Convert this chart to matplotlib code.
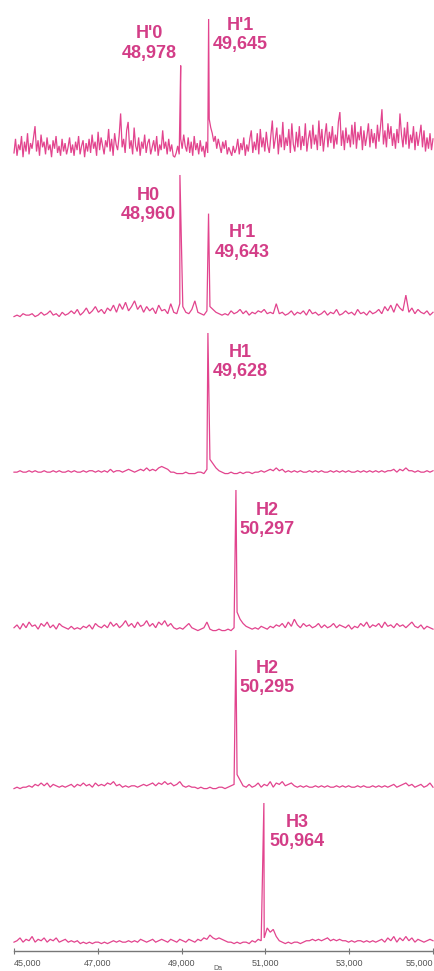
import numpy as np
import matplotlib
matplotlib.use("Agg")
import matplotlib.pyplot as plt

# ---------------- data ----------------
mass_min, mass_max = 45000, 55000
tick_values = [45000, 47000, 49000, 51000, 53000, 55000]
tick_labels = ["45,000", "47,000", "49,000", "51,000", "53,000", "55,000"]
x_label = "Da"

# noise intensities (relative, tallest peak = 100) sampled evenly over 45,000-55,000 Da
noise_1 = [5, 15, 3, 11, 7, 17, 2, 13, 6, 19,
           4, 12, 8, 16, 24, 6, 14, 3, 18, 9,
           13, 4, 16, 7, 11, 2, 14, 8, 17, 5,
           10, 3, 15, 6, 12, 4, 9, 16, 5, 11,
           3, 13, 7, 17, 4, 10, 14, 2, 12, 6,
           15, 5, 18, 8, 13, 3, 20, 7, 16, 10,
           4, 14, 9, 22, 6, 15, 3, 19, 11, 7,
           17, 33, 9, 15, 5, 21, 27, 8, 14, 4,
           23, 10, 6, 16, 3, 13, 8, 18, 5, 12,
           15, 4, 9, 14, 6, 17, 3, 11, 7, 21,
           8, 13, 4, 15, 6, 11, 3, 2, 5, 10,
           4, 15, 8, 18, 10, 6, 16, 5, 13, 3,
           17, 7, 12, 4, 14, 6, 10, 2, 13, 5,
           29, 23, 19, 13, 17, 8, 15, 10, 5, 13,
           8, 14, 4, 9, 6, 3, 10, 5, 8, 15,
           4, 12, 7, 16, 3, 11, 6, 15, 21, 5,
           13, 7, 19, 4, 22, 9, 16, 6, 20, 10,
           5, 17, 28, 8, 15, 23, 4, 18, 9, 27,
           7, 16, 10, 22, 5, 26, 11, 6, 20, 9,
           24, 7, 17, 10, 26, 6, 15, 21, 8, 25,
           11, 18, 7, 28, 10, 22, 6, 17, 26, 9,
           20, 12, 24, 8, 18, 11, 27, 34, 10, 21,
           7, 23, 12, 18, 9, 25, 11, 27, 8, 20,
           14, 24, 7, 21, 10, 17, 26, 9, 22, 12,
           19, 8, 25, 13, 23, 36, 11, 21, 9, 26,
           15, 24, 10, 19, 8, 22, 12, 33, 18, 9,
           23, 11, 27, 8, 18, 12, 24, 7, 20, 10,
           17, 25, 9, 21, 6, 16, 8, 19, 7, 15]
noise_2 = [1, 2, 1, 3, 2, 2, 3, 1, 2, 4,
           2, 3, 5, 2, 3, 1, 4, 2, 3, 5,
           3, 6, 2, 4, 7, 3, 5, 8, 4, 6,
           3, 7, 5, 9, 4, 10, 6, 11, 5, 8,
           12, 6, 9, 4, 8, 5, 7, 3, 9, 5,
           6, 3, 10, 4, 3, 10, 8, 4, 3, 6,
           12, 4, 3, 2, 5, 8, 6, 4, 3, 2,
           3, 2, 5, 3, 4, 6, 3, 5, 2, 4,
           3, 5, 4, 6, 3, 4, 3, 10, 3, 4,
           2, 3, 5, 2, 4, 3, 5, 2, 6, 3,
           4, 2, 3, 5, 2, 4, 3, 6, 2, 3,
           5, 3, 4, 2, 6, 3, 4, 2, 5, 3,
           4, 6, 3, 8, 5, 9, 4, 10, 7, 5,
           16, 4, 7, 3, 6, 4, 3, 5, 2, 4]
noise_3 = [2, 2, 3, 2, 2, 3, 2, 3, 2, 2,
           3, 2, 2, 3, 2, 3, 2, 2, 3, 2,
           3, 2, 2, 3, 2, 3, 3, 2, 3, 2,
           3, 2, 4, 2, 3, 3, 2, 3, 4, 3,
           2, 3, 4, 3, 5, 3, 4, 3, 5, 6,
           5, 4, 2, 2, 1, 1, 1, 2, 1, 1,
           1, 2, 2, 1, 4, 11, 8, 5, 3, 2,
           1, 1, 2, 1, 1, 2, 1, 2, 2, 1,
           2, 2, 3, 2, 3, 4, 3, 5, 3, 4,
           2, 3, 2, 3, 2, 3, 2, 2, 3, 2,
           3, 2, 3, 2, 2, 3, 2, 3, 2, 3,
           2, 3, 2, 2, 3, 2, 3, 2, 3, 2,
           3, 2, 3, 2, 3, 3, 4, 2, 4, 3,
           5, 3, 3, 2, 3, 2, 2, 3, 2, 3]
noise_4 = [3, 5, 2, 6, 3, 7, 4, 5, 2, 6,
           4, 7, 3, 5, 2, 6, 4, 3, 2, 4,
           2, 3, 2, 4, 3, 5, 2, 6, 4, 3,
           5, 3, 7, 4, 6, 3, 5, 8, 4, 6,
           3, 7, 4, 5, 8, 4, 6, 3, 7, 5,
           8, 4, 6, 3, 2, 3, 2, 4, 6, 3,
           2, 1, 2, 3, 7, 2, 1, 1, 2, 1,
           1, 2, 1, 3, 14, 9, 6, 4, 3, 2,
           3, 2, 4, 3, 2, 4, 3, 5, 4, 6,
           3, 7, 4, 9, 5, 3, 6, 4, 5, 3,
           4, 6, 3, 5, 3, 4, 6, 3, 5, 4,
           3, 5, 2, 4, 3, 6, 4, 7, 3, 5,
           4, 6, 3, 7, 4, 5, 3, 6, 4, 5,
           3, 5, 7, 4, 3, 5, 2, 4, 3, 2]
noise_5 = [1, 2, 1, 2, 2, 3, 2, 4, 3, 5,
           3, 5, 2, 4, 3, 2, 3, 2, 3, 4,
           2, 4, 3, 5, 3, 4, 2, 5, 3, 4,
           3, 5, 4, 6, 3, 4, 2, 3, 2, 3,
           3, 2, 3, 4, 3, 4, 5, 3, 5, 4,
           6, 4, 5, 3, 4, 6, 3, 2, 3, 2,
           2, 1, 2, 1, 1, 2, 1, 1, 2, 2,
           1, 2, 3, 4, 11, 7, 3, 2, 4, 2,
           3, 5, 2, 4, 3, 6, 2, 5, 4, 6,
           3, 4, 5, 3, 2, 3, 2, 3, 2, 2,
           3, 2, 3, 2, 3, 2, 2, 3, 2, 3,
           2, 3, 2, 2, 3, 2, 3, 2, 2, 3,
           2, 3, 2, 3, 2, 3, 4, 2, 3, 4,
           5, 3, 4, 2, 3, 4, 2, 3, 5, 2]
noise_6 = [2, 3, 5, 2, 4, 3, 6, 2, 4, 3,
           5, 2, 4, 3, 5, 2, 3, 4, 2, 3,
           2, 3, 1, 2, 1, 2, 1, 2, 2, 1,
           2, 1, 2, 3, 2, 3, 2, 2, 3, 2,
           3, 2, 4, 3, 2, 3, 4, 2, 3, 4,
           3, 2, 4, 3, 2, 4, 3, 2, 4, 3,
           2, 4, 3, 5, 4, 7, 5, 4, 5, 4,
           3, 2, 2, 1, 2, 1, 2, 2, 1, 3,
           2, 4, 3, 5, 12, 9, 11, 6, 3, 2,
           1, 2, 1, 2, 2, 1, 2, 3, 3, 4,
           3, 4, 3, 4, 5, 3, 4, 3, 4, 3,
           3, 2, 3, 2, 3, 3, 2, 3, 2, 3,
           2, 3, 4, 2, 5, 3, 6, 2, 5, 3,
           6, 3, 5, 2, 4, 3, 2, 3, 4, 3]
noise_series = [noise_1, noise_2, noise_3, noise_4, noise_5, noise_6]

# peaks per panel: (mass, relative height, label name)
peak_masses = [[48978, 49645], [48960, 49643], [49628], [50297], [50295], [50964]]
peak_heights = [[67, 100], [100, 73], [100], [100], [100], [100]]
peak_names = [["H'0", "H'1"], ["H0", "H'1"], ["H1"], ["H2"], ["H2"], ["H3"]]

# ---------------- layout / style ----------------
W, H = 435, 971
line_color = "#e2448e"
text_color = "#d33d87"
panel_px = [(19, 160), (175, 318), (333, 475), (490, 632), (650, 790), (803, 945)]
pad_px = 6
label_offsets = [[(-31, 22), (32, -16)], [(-32, -30), (34, -29)], [(32, -29)],
                 [(31, -30)], [(31, -28)], [(33, -29)]]

fig = plt.figure(figsize=(W / 100, H / 100), dpi=100)
fig.patch.set_facecolor("white")
x_left, x_right = 14, 433

for k in range(6):
    top, base = panel_px[k]
    bottom = base + pad_px
    ax = fig.add_axes([x_left / W, 1 - bottom / H, (x_right - x_left) / W, (bottom - top) / H])
    ax.set_xlim(mass_min, mass_max)
    ax.set_ylim(-pad_px / (base - top) * 100, 100)
    grid = np.linspace(mass_min, mass_max, len(noise_series[k]))
    xs = np.concatenate([grid, np.array(peak_masses[k], dtype=float)])
    ys = np.concatenate([np.array(noise_series[k], dtype=float), np.array(peak_heights[k], dtype=float)])
    order = np.argsort(xs)
    ax.plot(xs[order], ys[order], color=line_color, lw=0.9, solid_joinstyle="miter", clip_on=False)
    for m, h, name, off in zip(peak_masses[k], peak_heights[k], peak_names[k], label_offsets[k]):
        ax.annotate(f"{name}\n{m:,}", xy=(m, h), xytext=off, textcoords="offset pixels",
                    ha="center", va="center", multialignment="center", linespacing=1.2,
                    color=text_color, fontsize=13, fontweight="bold", family="Liberation Sans")
    for s in ["top", "right", "left"]:
        ax.spines[s].set_visible(False)
    ax.set_yticks([])
    if k < 5:
        ax.spines["bottom"].set_visible(False)
        ax.set_xticks([])
    else:
        ax.spines["bottom"].set_color("#777777")
        ax.spines["bottom"].set_linewidth(1.0)
        ax.set_xticks(tick_values)
        ax.set_xticklabels(tick_labels, fontsize=6.5, color="#555555", family="Liberation Sans")
        labels = ax.get_xticklabels()
        labels[0].set_horizontalalignment("left")
        labels[-1].set_horizontalalignment("right")
        ax.tick_params(axis="x", direction="inout", length=5, width=0.8, color="#777777", pad=3)
    ax.patch.set_alpha(0)

fig.text(218 / W, 1 - 968 / H, x_label, ha="center", va="center", fontsize=5, color="#555555",
         family="Liberation Sans")

fig.savefig("out.png", dpi=100, facecolor="white")
